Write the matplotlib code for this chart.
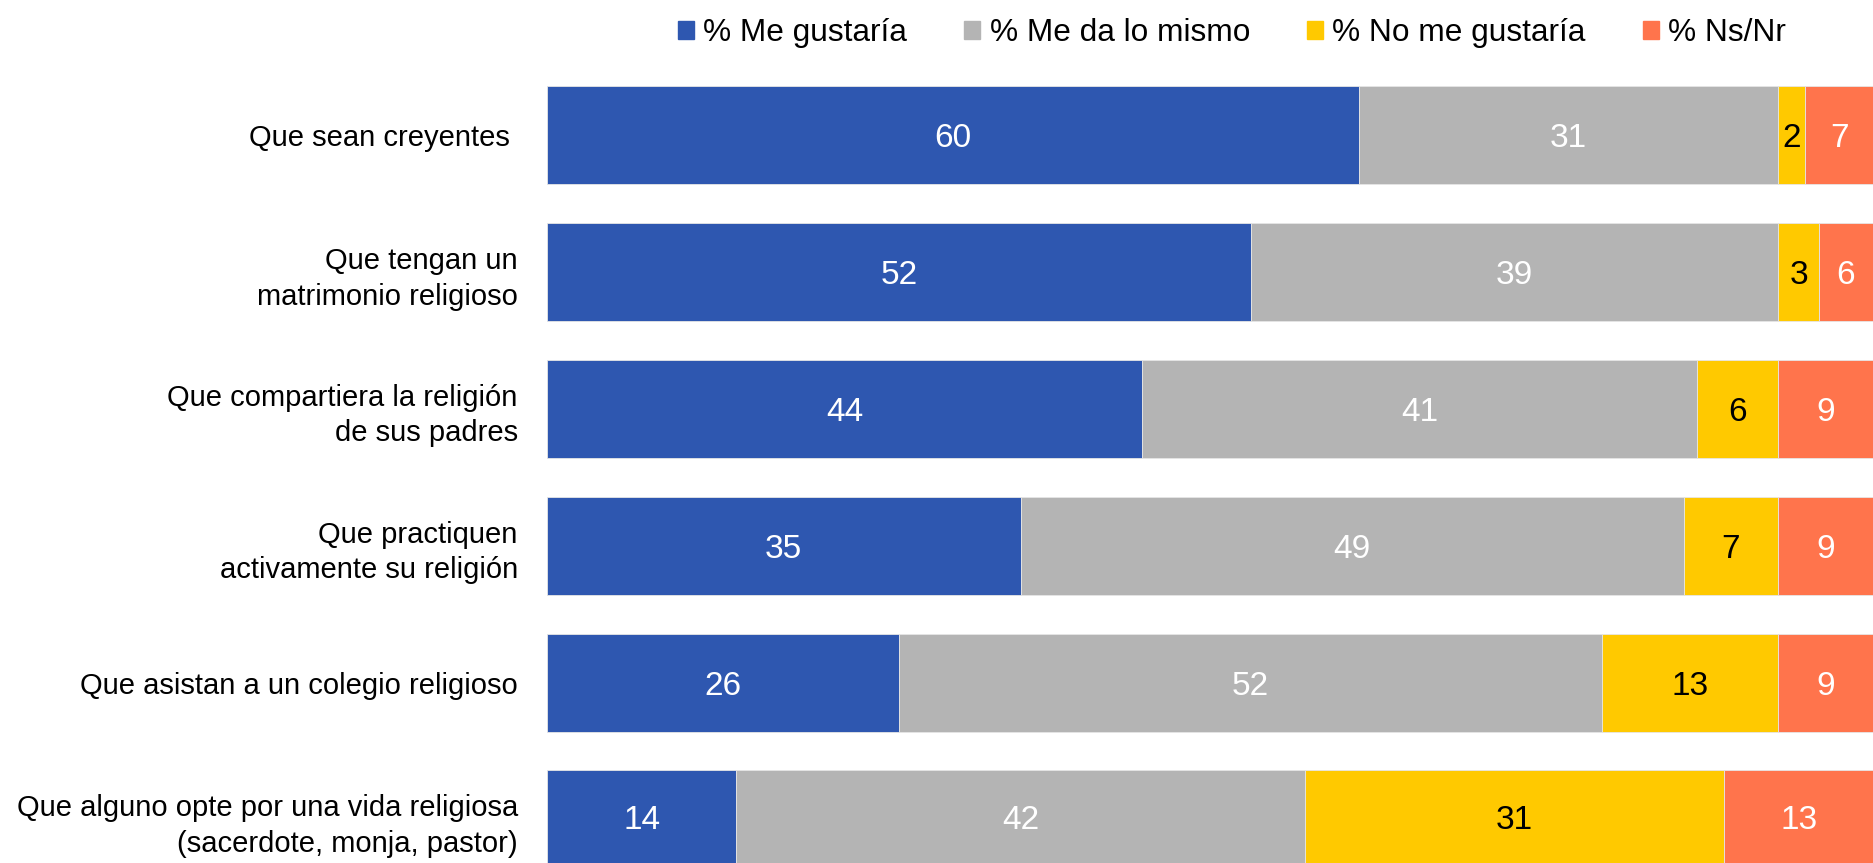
import numpy as np
import matplotlib
matplotlib.use("Agg")
import matplotlib.pyplot as plt
from matplotlib.patches import Patch

plt.rcParams['font.family'] = ['Liberation Sans', 'DejaVu Sans']

categories = [
    "Que sean creyentes ",
    "Que tengan un\nmatrimonio religioso",
    "Que compartiera la religión\nde sus padres",
    "Que practiquen\nactivamente su religión",
    "Que asistan a un colegio religioso",
    "Que alguno opte por una vida religiosa\n(sacerdote, monja, pastor)",
]
series = ["% Me gustaría", "% Me da lo mismo", "% No me gustaría", "% Ns/Nr"]
me_gustaria = [60, 52, 44, 35, 26, 14]
me_da_lo_mismo = [31, 39, 41, 49, 52, 42]
no_me_gustaria = [2, 3, 6, 7, 13, 31]
ns_nr = [7, 6, 9, 9, 9, 13]

colors = ["#2e57b0", "#b4b4b4", "#ffc900", "#ff744c"]
label_colors = ["white", "white", "black", "white"]

W, H = 1873, 863
fig = plt.figure(figsize=(W / 100, H / 100), dpi=100)
fig.patch.set_facecolor("white")
ax = fig.add_axes([547 / W, 0, (W - 547) / W, 1])

y = np.arange(len(categories))
left = np.zeros(len(categories))
for vals, name, c, tc in zip([me_gustaria, me_da_lo_mismo, no_me_gustaria, ns_nr],
                             series, colors, label_colors):
    vals = np.array(vals, dtype=float)
    bars = ax.barh(y, vals, left=left, height=0.716, color=c,
                   edgecolor="#e6e6e6", linewidth=0.6, label=name)
    txts = ax.bar_label(bars, labels=[f"{v:.0f}" for v in vals],
                        label_type="center", color=tc, fontsize=24)
    for t in txts:
        t.set_va("center_baseline")
    left += vals

ax.set_xlim(0, 98.0)
ax.set_ylim(5.318, -0.986)
ax.set_yticks(y, categories, fontsize=21, linespacing=1.35)
ax.tick_params(axis="y", length=0, pad=21)
ax.set_xticks([])
for s in ax.spines.values():
    s.set_visible(False)

handles = [Patch(color=c) for c in colors]
fig.legend(handles, series, loc="center", bbox_to_anchor=(1232 / W, 1 - 33 / H),
           ncol=4, frameon=False, fontsize=22.8, handlelength=0.5, handleheight=0.5,
           handletextpad=0.3, columnspacing=1.8, borderaxespad=0)

fig.savefig("out.png", dpi=100, facecolor="white")
